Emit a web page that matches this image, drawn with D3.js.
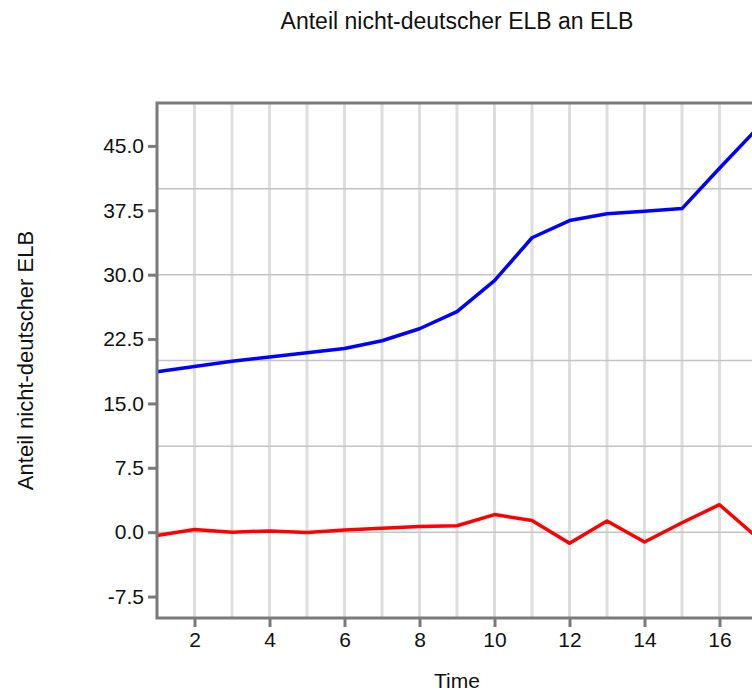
<!DOCTYPE html>
<html>
<head>
<meta charset="utf-8">
<script src="https://cdn.jsdelivr.net/npm/d3@7"></script>
<style>
  body { margin: 0; overflow: hidden; background: #fff; }
  svg { display: block; }
</style>
</head>
<body>
<div id="chart"></div>
<script>
// data
const time = [1, 2, 3, 4, 5, 6, 7, 8, 9, 10, 11, 12, 13, 14, 15, 16, 17];
const anteilBlue = [18.7, 19.3, 19.9, 20.4, 20.9, 21.4, 22.3, 23.7, 25.7, 29.3, 34.3, 36.3, 37.1, 37.4, 37.7, 42.4, 47.0];
const anteilRed = [-0.4, 0.3, 0.0, 0.15, -0.05, 0.25, 0.45, 0.65, 0.75, 2.05, 1.35, -1.3, 1.3, -1.15, 1.1, 3.2, -0.6];
const yTicks = [-7.5, 0, 7.5, 15, 22.5, 30, 37.5, 45];
const xTicks = [2, 4, 6, 8, 10, 12, 14, 16];
const yGrid = [0, 10, 20, 30, 40];

const width = 920,
  height = 695;
const margin = { top: 103, left: 157 };
const plotW = 600,
  plotH = 515;
const font = "'Liberation Sans', Arial, sans-serif";
const frameColor = "#7a7a7a";

const svg = d3
  .select("#chart")
  .append("svg")
  .attr("width", width)
  .attr("height", height)
  .attr("font-family", font);

const x = d3.scaleLinear([1, 17], [0, plotW]);
const y = d3.scaleLinear([-10, 50], [plotH, 0]);

const g = svg
  .append("g")
  .attr("transform", `translate(${margin.left},${margin.top})`);

// vertical grid, one per time step
g.selectAll(".vgrid")
  .data(d3.range(2, 17))
  .join("line")
  .attr("x1", (d) => x(d))
  .attr("x2", (d) => x(d))
  .attr("y1", 0)
  .attr("y2", plotH)
  .attr("stroke", "#dedede")
  .attr("stroke-width", 3);

// horizontal grid
g.selectAll(".hgrid")
  .data(yGrid)
  .join("line")
  .attr("x1", 0)
  .attr("x2", plotW)
  .attr("y1", (d) => y(d))
  .attr("y2", (d) => y(d))
  .attr("stroke", "#c4c4c4")
  .attr("stroke-width", 1.5);

const line = d3
  .line()
  .x((d) => x(d[0]))
  .y((d) => y(d[1]));

const series = [
  { values: anteilBlue, color: "#0000ff" },
  { values: anteilRed, color: "#ff0000" },
];

g.selectAll(".series")
  .data(series)
  .join("path")
  .attr("d", (s) => line(time.map((t, i) => [t, s.values[i]])))
  .attr("fill", "none")
  .attr("stroke", (s) => s.color)
  .attr("stroke-width", 3.5)
  .attr("stroke-linejoin", "round");

// frame
g.append("rect")
  .attr("width", plotW)
  .attr("height", plotH)
  .attr("fill", "none")
  .attr("stroke", frameColor)
  .attr("stroke-width", 3);

// axes (plain hyphen for negatives, like the original)
const fmt = (d) => d3.format(".1f")(d).replace("\u2212", "-");

const yAxis = g
  .append("g")
  .call(
    d3
      .axisLeft(y)
      .tickValues(yTicks)
      .tickFormat(fmt)
      .tickSize(9)
      .tickPadding(4)
  );
const xAxis = g
  .append("g")
  .attr("transform", `translate(0,${plotH})`)
  .call(d3.axisBottom(x).tickValues(xTicks).tickSize(9).tickPadding(5));

[yAxis, xAxis].forEach((a) => {
  a.select(".domain").remove();
  a.selectAll(".tick line")
    .attr("stroke", frameColor)
    .attr("stroke-width", 3);
  a.selectAll(".tick text")
    .attr("font-family", font)
    .attr("font-size", 21)
    .attr("fill", "#111");
});

// title and axis labels
svg
  .append("text")
  .attr("x", margin.left + plotW / 2)
  .attr("y", 29)
  .attr("text-anchor", "middle")
  .attr("font-size", 23)
  .attr("fill", "#111")
  .text("Anteil nicht-deutscher ELB an ELB");

svg
  .append("text")
  .attr("x", margin.left + plotW / 2)
  .attr("y", 688)
  .attr("text-anchor", "middle")
  .attr("font-size", 21)
  .attr("fill", "#111")
  .text("Time");

svg
  .append("text")
  .attr("transform", `translate(33,${margin.top + plotH / 2}) rotate(-90)`)
  .attr("text-anchor", "middle")
  .attr("font-size", 22)
  .attr("fill", "#111")
  .text("Anteil nicht-deutscher ELB");
</script>
</body>
</html>
